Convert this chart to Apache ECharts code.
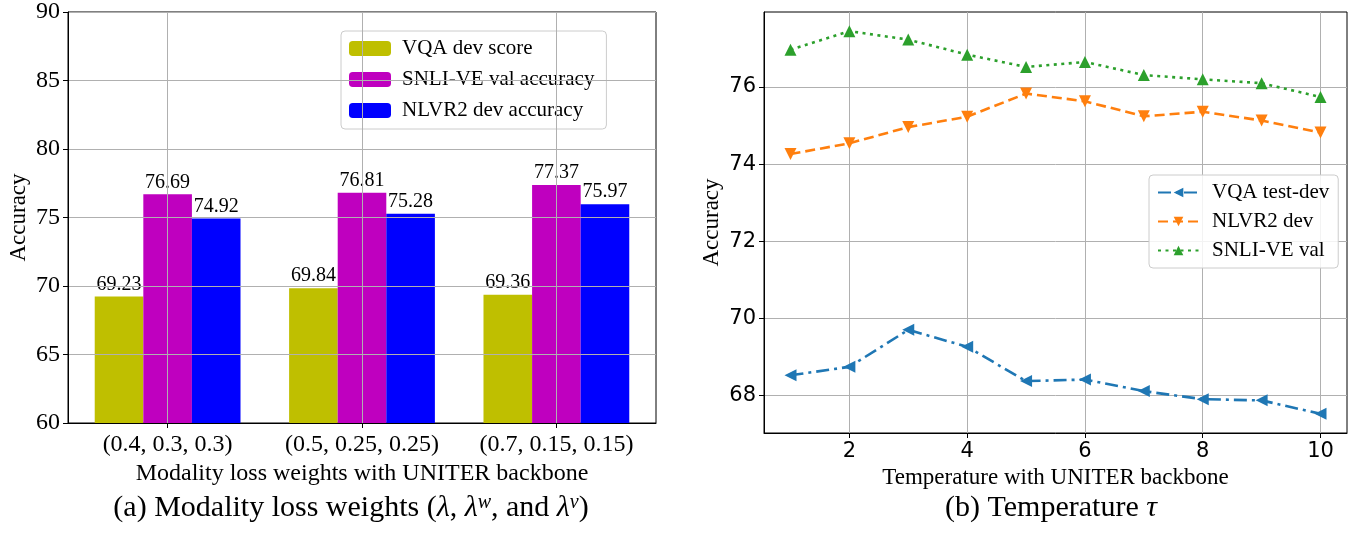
<!DOCTYPE html>
<html><head><meta charset="utf-8">
<script src="https://cdn.jsdelivr.net/npm/echarts@6/dist/echarts.min.js"></script>
<style>html,body{margin:0;padding:0;background:#fff}#c{width:1351px;height:533px}</style>
</head><body><div id="c"></div>
<script>
// ---------- Data: (a) modality loss weights ----------
const weightCategories = ['(0.4, 0.3, 0.3)', '(0.5, 0.25, 0.25)', '(0.7, 0.15, 0.15)'];
const vqaDevScore = [69.23, 69.84, 69.36];
const snliVeValAccuracy = [76.69, 76.81, 77.37];
const nlvr2DevAccuracy = [74.92, 75.28, 75.97];
const barNames = ['VQA dev score', 'SNLI-VE val accuracy', 'NLVR2 dev accuracy'];
const barYTicks = [60, 65, 70, 75, 80, 85, 90];

// ---------- Data: (b) temperature ----------
const temperatures = [1, 2, 3, 4, 5, 6, 7, 8, 9, 10];
const vqaTestDev = [68.52, 68.74, 69.70, 69.26, 68.37, 68.41, 68.11, 67.90, 67.87, 67.52];
const nlvr2Dev = [74.26, 74.54, 74.96, 75.23, 75.83, 75.63, 75.24, 75.36, 75.13, 74.82];
const snliVeVal = [76.97, 77.45, 77.23, 76.84, 76.52, 76.65, 76.31, 76.20, 76.10, 75.74];
const lineNames = ['VQA test-dev', 'NLVR2 dev', 'SNLI-VE val'];
const tempXTicks = [2, 4, 6, 8, 10];
const tempYTicks = [68, 70, 72, 74, 76];

const SERIF = 'Liberation Serif';
const SANS = 'DejaVu Sans';

// matplotlib-like auto limits (5% margins)
const barLo = -0.375, barHi = weightCategories.length - 1 + 0.375;
const barPad = 0.05 * (barHi - barLo);
const allLine = vqaTestDev.concat(nlvr2Dev, snliVeVal);
const lMin = Math.min(...allLine), lMax = Math.max(...allLine);
const lPad = 0.05 * (lMax - lMin);
const tMin = temperatures[0], tMax = temperatures[temperatures.length - 1];
const tPad = 0.05 * (tMax - tMin);

const gridLine = { show: true, lineStyle: { color: '#b0b0b0', width: 1 } };
const axisLineBlack = { show: true, onZero: false, lineStyle: { color: '#000', width: 1 } };

function barSeries(name, vals, color) {
  return {
    name, type: 'bar', xAxisIndex: 0, yAxisIndex: 0,
    data: vals.map((v, i) => [i, v]),
    barWidth: '25%', barGap: '0%',
    itemStyle: { color },
    z: 2,
    label: {
      show: true, position: 'top', distance: 2,
      formatter: p => p.value[1].toFixed(2),
      fontFamily: SERIF, fontSize: 20, color: '#000'
    }
  };
}
function lineSeries(name, vals, color, dash, rot) {
  return {
    name, type: 'line', xAxisIndex: 1, yAxisIndex: 1,
    data: temperatures.map((t, i) => [t, vals[i]]),
    symbol: 'triangle', symbolSize: 12, symbolRotate: rot,
    lineStyle: { color, width: 2.6, type: dash },
    itemStyle: { color },
    z: 3
  };
}

const chart = echarts.init(document.getElementById('c'), null, { renderer: 'canvas' });
chart.setOption({
  animation: false,
  backgroundColor: '#fff',
  grid: [
    { left: 68, top: 12, width: 588, height: 411, show: true, borderColor: '#000', borderWidth: 1, backgroundColor: 'transparent' },
    { left: 764, top: 12, width: 583, height: 421, show: true, borderColor: '#000', borderWidth: 1, backgroundColor: 'transparent' }
  ],
  xAxis: [
    {
      type: 'value', gridIndex: 0, min: barLo - barPad, max: barHi + barPad, z: 5,
      axisLine: axisLineBlack,
      axisTick: { show: true, length: 5, lineStyle: { color: '#000' }, customValues: [0, 1, 2] },
      axisLabel: { customValues: [0, 1, 2], formatter: v => weightCategories[Math.round(v)],
        fontFamily: SERIF, fontSize: 24, color: '#000', margin: 10 },
      splitLine: gridLine,
      name: 'Modality loss weights with UNITER backbone', nameLocation: 'middle', nameGap: 39,
      nameTextStyle: { fontFamily: SERIF, fontSize: 24, color: '#000' }
    },
    {
      type: 'value', gridIndex: 1, min: tMin - tPad, max: tMax + tPad,
      axisLine: axisLineBlack,
      axisTick: { show: true, length: 5, lineStyle: { color: '#000' }, customValues: tempXTicks },
      axisLabel: { customValues: tempXTicks, fontFamily: SANS, fontSize: 21, color: '#000', margin: 8 },
      splitLine: gridLine,
      name: 'Temperature with UNITER backbone', nameLocation: 'middle', nameGap: 33,
      nameTextStyle: { fontFamily: SERIF, fontSize: 23, color: '#000' }
    }
  ],
  yAxis: [
    {
      type: 'value', gridIndex: 0, min: barYTicks[0], max: barYTicks[barYTicks.length - 1], z: 5,
      axisLine: axisLineBlack,
      axisTick: { show: true, length: 5, lineStyle: { color: '#000' }, customValues: barYTicks },
      axisLabel: { customValues: barYTicks, fontFamily: SERIF, fontSize: 24, color: '#000', margin: 8 },
      splitLine: gridLine,
      name: 'Accuracy', nameLocation: 'middle', nameGap: 38,
      nameTextStyle: { fontFamily: SERIF, fontSize: 23, color: '#000' }
    },
    {
      type: 'value', gridIndex: 1, min: lMin - lPad, max: lMax + lPad,
      axisLine: axisLineBlack,
      axisTick: { show: true, length: 5, lineStyle: { color: '#000' }, customValues: tempYTicks },
      axisLabel: { customValues: tempYTicks, fontFamily: SANS, fontSize: 21, color: '#000', margin: 8 },
      splitLine: gridLine,
      name: 'Accuracy', nameLocation: 'middle', nameGap: 41,
      nameTextStyle: { fontFamily: SERIF, fontSize: 23, color: '#000' }
    }
  ],
  legend: [
    {
      data: barNames, orient: 'vertical', left: 341, top: 31,
      itemWidth: 42, itemHeight: 15, itemGap: 10,
      padding: [7, 12, 8, 8], borderColor: '#cccccc', borderWidth: 1, borderRadius: 4,
      backgroundColor: 'rgba(255,255,255,0.85)',
      textStyle: { fontFamily: SERIF, fontSize: 21, color: '#000', padding: [0, 0, 0, 6] }
    },
    {
      data: lineNames, orient: 'vertical', left: 1149, top: 175,
      itemWidth: 41, itemHeight: 12, itemGap: 8,
      padding: [7, 9, 7, 8], borderColor: '#cccccc', borderWidth: 1, borderRadius: 4,
      backgroundColor: 'rgba(255,255,255,0.85)',
      textStyle: { fontFamily: SERIF, fontSize: 21, color: '#000', padding: [0, 0, 0, 8] }
    }
  ],
  series: [
    barSeries(barNames[0], vqaDevScore, '#bfbf00'),
    barSeries(barNames[1], snliVeValAccuracy, '#bf00bf'),
    barSeries(barNames[2], nlvr2DevAccuracy, '#0000ff'),
    lineSeries(lineNames[0], vqaTestDev, '#1f77b4', [13, 5, 3, 5], 90),
    lineSeries(lineNames[1], nlvr2Dev, '#ff7f0e', [10, 5], 180),
    lineSeries(lineNames[2], snliVeVal, '#2ca02c', [3, 4.5], 0)
  ],
  graphic: [
    {
      type: 'text', x: 351, y: 508,
      style: {
        text: '(a) Modality loss weights ({it|λ}, {it|λ}{sup|w}, and {it|λ}{sup|v})',
        font: '30px "Liberation Serif"', fill: '#000', align: 'center', verticalAlign: 'middle',
        rich: {
          it: { fontFamily: SERIF, fontSize: 30, fontStyle: 'italic', fill: '#000' },
          sup: { fontFamily: SERIF, fontSize: 20, fontStyle: 'italic', verticalAlign: 'top', fill: '#000' }
        }
      }
    },
    {
      type: 'text', x: 1051, y: 508,
      style: {
        text: '(b) Temperature {it|τ}',
        font: '30px "Liberation Serif"', fill: '#000', align: 'center', verticalAlign: 'middle',
        rich: { it: { fontFamily: SERIF, fontSize: 30, fontStyle: 'italic', fill: '#000' } }
      }
    }
  ]
});
</script></body></html>
